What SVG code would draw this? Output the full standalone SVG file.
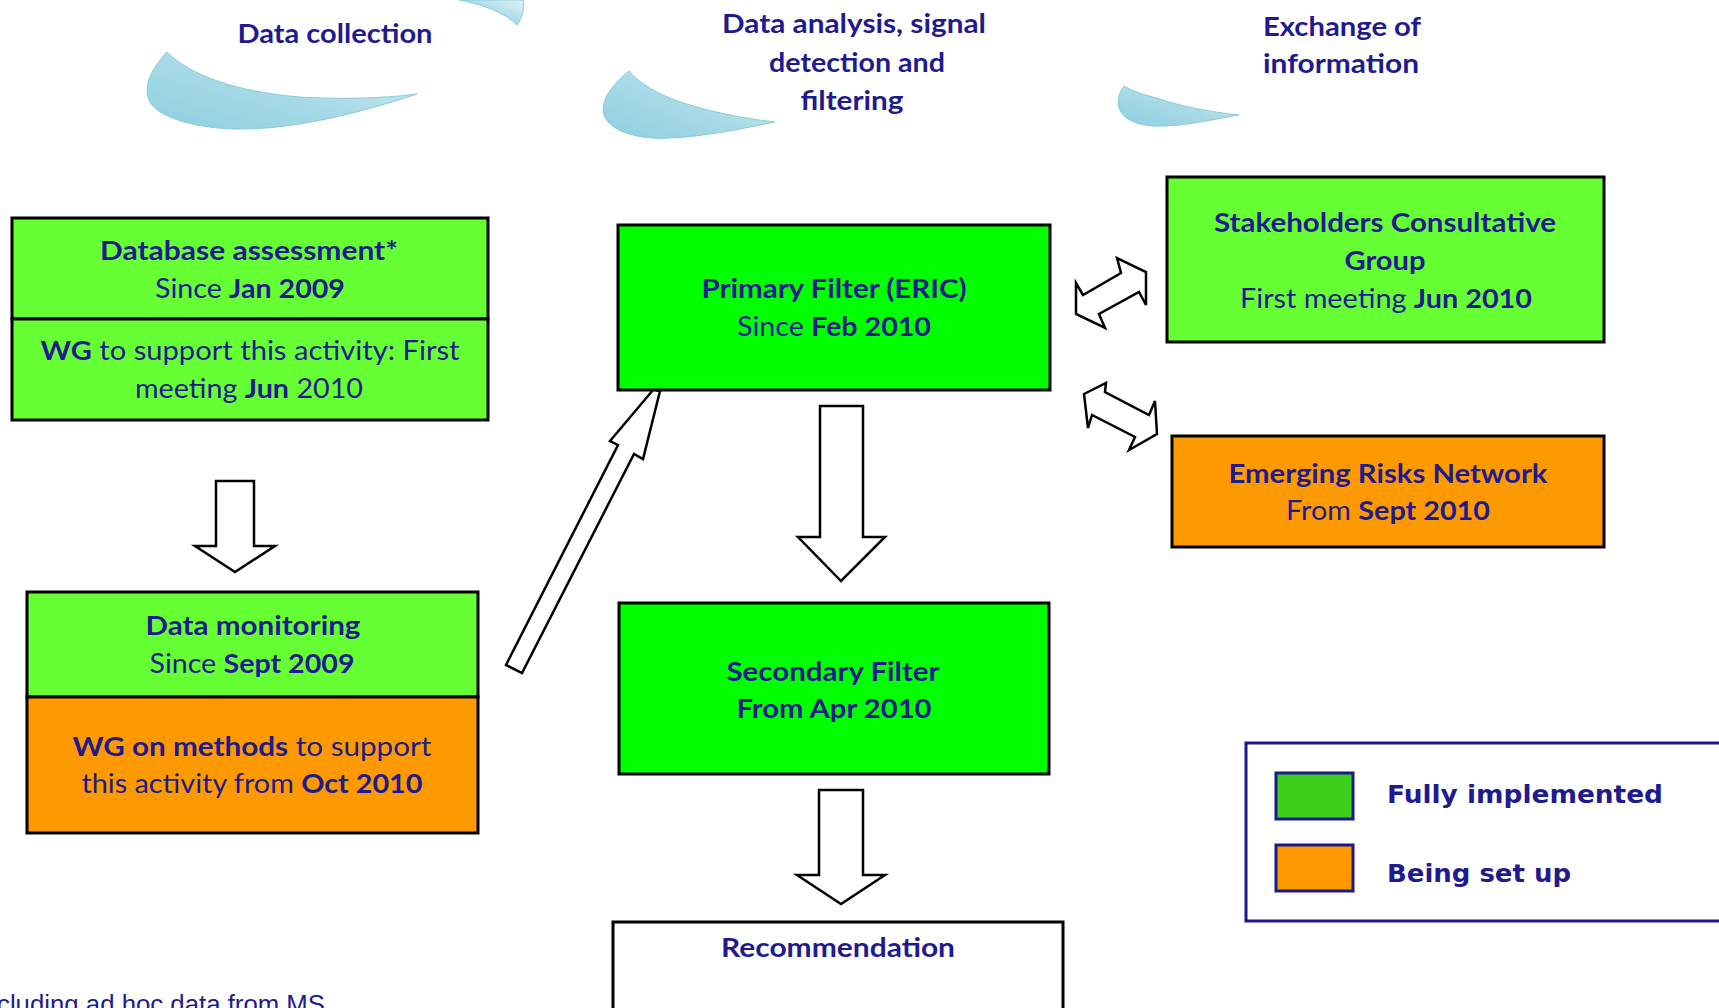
<svg xmlns="http://www.w3.org/2000/svg" width="1719" height="1008" viewBox="0 0 1719 1008">
<defs>
<linearGradient id="sw" x1="0" y1="1" x2="1" y2="0">
<stop offset="0" stop-color="#8dcfdf"/>
<stop offset="0.5" stop-color="#a9dae7"/>
<stop offset="1" stop-color="#e2f2f6"/>
</linearGradient>
<style>
.t{font-family:Lato,"Open Sans","Liberation Sans",sans-serif;font-size:26px;fill:#1f1b8f;text-anchor:middle}
.b{font-weight:bold}
.h{font-family:Lato,"Open Sans","Liberation Sans",sans-serif;font-size:27px;font-weight:bold;fill:#1f1b8f;text-anchor:middle}
.box{stroke:#000;stroke-width:3}
.g1{fill:#66ff33}
.g2{fill:#00ff00}
.or{fill:#ff9900}
.arr{fill:#fff;stroke:#000;stroke-width:2.5;stroke-linejoin:miter}
.sw{fill:url(#sw);stroke:#8ccbdc;stroke-width:1}
.lg{font-family:"DejaVu Sans",Verdana,sans-serif;font-size:24px;font-weight:bold;fill:#1f1b8f}
</style>
</defs>
<rect width="1719" height="1008" fill="#fff"/>

<g id="headers">
<path class="sw" d="M459,0 L523,0 C525,9 522,18 517,25 C505,13 485,5 459,0 Z"/>
<path class="sw" d="M167,52 C152,68 143,85 149,100 C156,118 200,130 245,129 C300,128 360,113 417,94 C380,99 330,99 300,97 C250,93 195,80 167,52 Z"/>
<path class="sw" d="M629,71 C612,85 600,100 604,115 C610,132 640,140 670,138 C710,136 745,128 775,122 C740,118 700,110 670,98 C650,90 637,80 629,71 Z"/>
<path class="sw" d="M1124,86 C1118,94 1116,104 1121,112 C1128,123 1145,127 1165,126 C1190,125 1215,119 1239,115 C1210,112 1180,106 1160,99 C1145,95 1132,91 1124,86 Z"/>
<text class="h" x="335" y="43" textLength="195" lengthAdjust="spacingAndGlyphs">Data collection</text>
<text class="h" x="854" y="33" textLength="264" lengthAdjust="spacingAndGlyphs">Data analysis, signal</text>
<text class="h" x="857" y="72" textLength="176" lengthAdjust="spacingAndGlyphs">detection and</text>
<text class="h" x="852" y="110" textLength="103" lengthAdjust="spacingAndGlyphs">filtering</text>
<text class="h" x="1342" y="36" textLength="158" lengthAdjust="spacingAndGlyphs">Exchange of</text>
<text class="h" x="1341" y="73" textLength="156" lengthAdjust="spacingAndGlyphs">information</text>
</g>

<g id="database-assessment">
<rect class="box g1" x="12" y="218" width="476" height="101"/>
<rect class="box g1" x="12" y="319" width="476" height="101"/>
<text class="t b" x="249" y="260" textLength="298" lengthAdjust="spacingAndGlyphs">Database assessment*</text>
<text class="t" x="250" y="298" textLength="190" lengthAdjust="spacingAndGlyphs">Since <tspan class="b">Jan 2009</tspan></text>
<text class="t" x="250" y="360" textLength="419" lengthAdjust="spacingAndGlyphs"><tspan class="b">WG</tspan> to support this activity: First</text>
<text class="t" x="249" y="398" textLength="228" lengthAdjust="spacingAndGlyphs">meeting <tspan class="b">Jun</tspan> 2010</text>
</g>

<g id="data-monitoring">
<rect class="box g1" x="27" y="592" width="451" height="105"/>
<rect class="box or" x="27" y="697" width="451" height="136"/>
<text class="t b" x="253" y="635" textLength="215" lengthAdjust="spacingAndGlyphs">Data monitoring</text>
<text class="t" x="252" y="673" textLength="205" lengthAdjust="spacingAndGlyphs">Since <tspan class="b">Sept 2009</tspan></text>
<text class="t" x="252" y="756" textLength="359" lengthAdjust="spacingAndGlyphs"><tspan class="b">WG on methods</tspan> to support</text>
<text class="t" x="252" y="793" textLength="341" lengthAdjust="spacingAndGlyphs">this activity from <tspan class="b">Oct 2010</tspan></text>
</g>

<g id="primary-filter">
<rect class="box g2" x="618" y="225" width="432" height="165"/>
<text class="t b" x="834" y="298" textLength="265" lengthAdjust="spacingAndGlyphs">Primary Filter (ERIC)</text>
<text class="t" x="834" y="336" textLength="194" lengthAdjust="spacingAndGlyphs">Since <tspan class="b">Feb 2010</tspan></text>
</g>

<g id="secondary-filter">
<rect class="box g2" x="619" y="603" width="430" height="171"/>
<text class="t b" x="833" y="681" textLength="213" lengthAdjust="spacingAndGlyphs">Secondary Filter</text>
<text class="t b" x="834" y="718" textLength="195" lengthAdjust="spacingAndGlyphs">From Apr 2010</text>
</g>

<g id="recommendation">
<rect class="box" fill="#fff" x="613" y="922" width="450" height="100"/>
<text class="h" x="838" y="957" textLength="234" lengthAdjust="spacingAndGlyphs">Recommendation</text>
</g>

<g id="stakeholders">
<rect class="box g1" x="1167" y="177" width="437" height="165"/>
<text class="t b" x="1385" y="232" textLength="342" lengthAdjust="spacingAndGlyphs">Stakeholders Consultative</text>
<text class="t b" x="1385" y="270" textLength="81" lengthAdjust="spacingAndGlyphs">Group</text>
<text class="t" x="1386" y="308" textLength="292" lengthAdjust="spacingAndGlyphs">First meeting <tspan class="b">Jun 2010</tspan></text>
</g>

<g id="emerging-risks">
<rect class="box or" x="1172" y="436" width="432" height="111"/>
<text class="t b" x="1388" y="483" textLength="319" lengthAdjust="spacingAndGlyphs">Emerging Risks Network</text>
<text class="t" x="1388" y="520" textLength="204" lengthAdjust="spacingAndGlyphs">From <tspan class="b">Sept 2010</tspan></text>
</g>

<g id="connectors">
<polygon class="arr" points="820,406 863,406 863,537 885,537 841,581 798,537 820,537"/>
<polygon class="arr" points="819,790 863,790 863,875 885,875 841,904 797,875 819,875"/>
<polygon class="arr" points="216,481 254,481 254,546 275,546 235,572 195,546 216,546"/>
<polygon class="arr" points="506,665 618,445 610,441 653,390 660,391 643,459 634,454 522,673"/>
<polygon class="arr" points="1076,283 1083,295 1121,273 1117,258 1146,272 1146,305 1139,292 1099,314 1105,328 1076,314"/>
<polygon class="arr" points="1084,394 1106,383 1105,392 1149,415 1155,401 1157,434 1129,450 1135,437 1092,415 1088,428"/>
</g>

<g id="legend">
<rect x="1246" y="743" width="490" height="178" fill="#fff" stroke="#1a1a8c" stroke-width="3"/>
<rect x="1276" y="773" width="77" height="46" fill="#3ccf1c" stroke="#1a1a8c" stroke-width="3"/>
<rect x="1276" y="845" width="77" height="46" fill="#ff9900" stroke="#1a1a8c" stroke-width="3"/>
<text class="lg" x="1387" y="803" textLength="276" lengthAdjust="spacingAndGlyphs">Fully implemented</text>
<text class="lg" x="1387" y="882" textLength="184" lengthAdjust="spacingAndGlyphs">Being set up</text>
</g>

<g id="footnote">
<text x="-3" y="1013" font-family="'Liberation Sans',Arial,sans-serif" font-size="25" fill="#1f1b8f" textLength="328" lengthAdjust="spacingAndGlyphs">cluding ad hoc data from MS</text>
</g>
</svg>
